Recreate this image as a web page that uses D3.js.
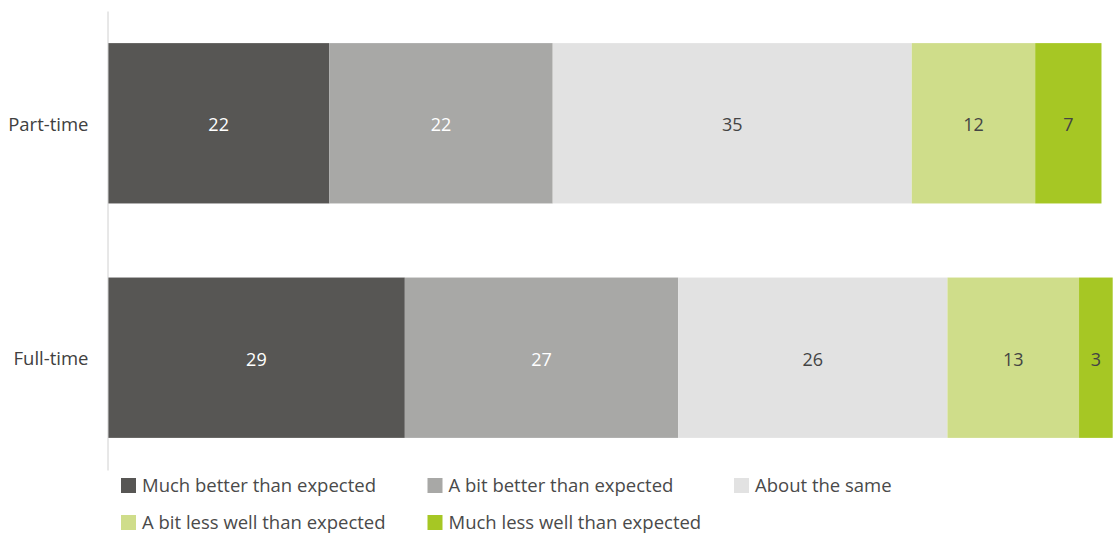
<!DOCTYPE html>
<html>
<head>
<meta charset="utf-8">
<script src="https://cdn.jsdelivr.net/npm/d3@7"></script>
<style>
  body { margin: 0; background: #fff; }
  text { font-family: "Open Sans", sans-serif; }
</style>
</head>
<body>
<script>
// categories (top to bottom) and the answer groups
var categories = ["Part-time", "Full-time"];
var groups = ["Much better than expected", "A bit better than expected", "About the same",
              "A bit less well than expected", "Much less well than expected"];

// percentages (labels show them rounded)
var partTime = [21.7, 21.9, 35.2, 12.1, 6.5];
var fullTime = [29.1, 26.8, 26.4, 12.9, 3.3];

var colors = ["#575654", "#a8a8a6", "#e2e2e2", "#cfdd8a", "#a6c724"];
var labelColors = ["#ffffff", "#ffffff", "#444444", "#444444", "#444444"];

window.onload = function() {
  var width = 1118, height = 534;

  var svg = d3.select("body").append("svg")
      .attr("width", width)
      .attr("height", height);

  // setup scales
  var xScale = d3.scaleLinear().domain([0, 100]).range([108, 1128]);
  var yScale = d3.scaleBand().domain(categories).range([11, 470])
      .paddingInner(0.316).paddingOuter(0.137);

  // stack the values per category
  var rows = [partTime, fullTime].map(function(vals, i) {
    var start = 0;
    return {
      name: categories[i],
      segs: vals.map(function(v, j) {
        var s = {x0: start, x1: start + v, v: v, g: j};
        start += v;
        return s;
      })
    };
  });

  var row = svg.selectAll(".row")
      .data(rows)
    .enter().append("g")
      .attr("class", "row")
      .attr("transform", function(d) { return "translate(0," + yScale(d.name) + ")"; });

  row.selectAll("rect")
      .data(function(d) { return d.segs; })
    .enter().append("rect")
      .attr("x", function(d) { return xScale(d.x0); })
      .attr("width", function(d) { return xScale(d.x1) - xScale(d.x0); })
      .attr("height", yScale.bandwidth())
      .style("fill", function(d) { return colors[d.g]; });

  row.selectAll(".val")
      .data(function(d) { return d.segs; })
    .enter().append("text")
      .attr("class", "val")
      .attr("x", function(d) { return (xScale(d.x0) + xScale(d.x1)) / 2; })
      .attr("y", yScale.bandwidth() / 2)
      .attr("dy", "0.45em")
      .attr("text-anchor", "middle")
      .style("font-size", "18px")
      .style("fill", function(d) { return labelColors[d.g]; })
      .text(function(d) { return d3.format(".0f")(d.v); });

  // y axis: just the line and the category names
  var yAxis = d3.axisLeft(yScale).tickSize(0).tickPadding(19);
  var gy = svg.append("g")
      .attr("transform", "translate(107.5,0)")
      .call(yAxis);
  gy.select(".domain").attr("stroke", "#d0d0d0");
  gy.selectAll("text")
      .attr("dy", "0.4em")
      .style("font-family", "'Open Sans', sans-serif")
      .style("font-size", "18.5px")
      .style("fill", "#404040");

  // legend
  var legend = svg.selectAll(".legend")
      .data(groups)
    .enter().append("g")
      .attr("class", "legend")
      .attr("transform", function(d, i) {
        return "translate(" + (121 + (i % 3) * 306.5) + "," + (478 + Math.floor(i / 3) * 37) + ")";
      });

  legend.append("rect")
      .attr("width", 15)
      .attr("height", 15)
      .style("fill", function(d, i) { return colors[i]; });

  legend.append("text")
      .attr("x", 21)
      .attr("y", 8)
      .attr("dy", "0.35em")
      .style("font-size", "18.5px")
      .style("fill", "#4a4a4a")
      .text(function(d) { return d; });
};
</script>
</body>
</html>
